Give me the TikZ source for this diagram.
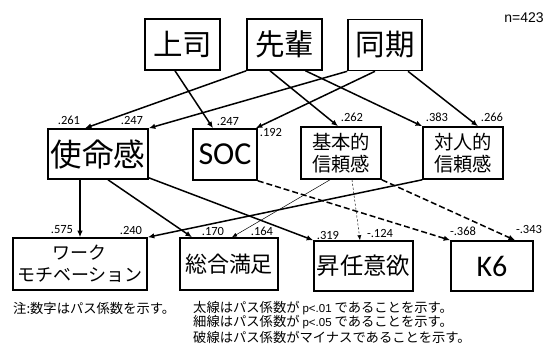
\documentclass[tikz,border=0pt]{standalone}
\usepackage{fontspec}
\setmainfont{Carlito}
\newfontfamily\jp{Noto Sans CJK JP}
\newfontfamily\arialf{Liberation Sans}
\usetikzlibrary{arrows.meta}
\begin{document}
\begin{tikzpicture}[x=1pt,y=-1pt,
  box/.style={draw, line width=1.6pt, inner sep=0pt, align=center},
  thickarrow/.style={line width=1.5pt, -{Latex[length=6.5pt,width=5.5pt]}},
  thinarrow/.style={line width=0.5pt, -{Latex[length=5pt,width=4pt]}},
  negthick/.style={thickarrow, dash pattern=on 6pt off 3pt},
  negthin/.style={thinarrow, dash pattern=on 2pt off 2pt},
  coef/.style={font=\fontsize{12.5}{12.5}\selectfont, inner sep=0pt},
  note/.style={anchor=west, inner sep=0pt, font=\jp\fontsize{13.3}{13.3}\selectfont},
  pval/.style={}
]
\useasboundingbox (0,0) rectangle (550,354);

% top row
\node[box, minimum width=75pt, minimum height=51pt, font=\jp\fontsize{29.5}{30}\selectfont] (shushi) at (182.5,44.5) {上司};
\node[box, minimum width=75pt, minimum height=51pt, font=\jp\fontsize{29.5}{30}\selectfont] (senpai) at (284.5,44.5) {先輩};
\node[box, minimum width=74pt, minimum height=51pt, font=\jp\fontsize{29.5}{30}\selectfont] (douki) at (385,45) {同期};

% middle row
\node[box, minimum width=100pt, minimum height=50pt, font=\jp\fontsize{31.5}{32}\selectfont] (shimei) at (98,154) {使命感};
\node[box, minimum width=64pt, minimum height=51pt, font=\fontsize{32}{32}\selectfont] (soc) at (225,154.5) {SOC};
\node[box, minimum width=80pt, minimum height=52pt, font=\jp\fontsize{19.3}{22}\selectfont] (kihon) at (341,153) {基本的\\信頼感};
\node[box, minimum width=80pt, minimum height=52pt, font=\jp\fontsize{19.3}{22}\selectfont] (taijin) at (463,153) {対人的\\信頼感};

% bottom row
\node[box, minimum width=134pt, minimum height=52pt, font=\jp\fontsize{18}{22}\selectfont] (work) at (80,264) {ワーク\\モチベーション};
\node[box, minimum width=98pt, minimum height=52pt, font=\jp\fontsize{22}{22}\selectfont] (sogo) at (229,264) {総合満足};
\node[box, minimum width=99pt, minimum height=50pt, font=\jp\fontsize{23.3}{24}\selectfont] (shonin) at (363.5,266) {昇任意欲};
\node[box, minimum width=82pt, minimum height=50pt, font=\fontsize{30}{30}\selectfont] (k6) at (492,266) {K6};

% upper paths
\draw[thickarrow] ([xshift=-7.5pt]shushi.south) -- ([xshift=-12pt]soc.north);
\draw[thickarrow] (senpai.south west) -- ([xshift=-13pt]shimei.north);
\draw[thickarrow] (douki.south west) -- (shimei.north east);
\draw[thickarrow] ([xshift=-10pt]douki.south) -- ([xshift=-2pt]soc.north east);
\draw[thickarrow] ([xshift=-14.5pt]senpai.south) -- ([xshift=-3pt]kihon.north);
\draw[thickarrow] ([xshift=21pt]senpai.south) -- (taijin.north west);
\draw[thickarrow] ([xshift=23pt]douki.south) -- ([xshift=15pt]taijin.north);

% lower paths
\draw[thickarrow] ([xshift=-18pt]shimei.south) -- (work.north);
\draw[thickarrow] ([xshift=10pt]shimei.south) -- ([xshift=-37pt]sogo.north);
\draw[thickarrow] ([yshift=2pt]shimei.south east) -- (shonin.north west);
\draw[thickarrow] (taijin.south west) -- (work.north east);
\draw[thinarrow] ([xshift=-11pt]kihon.south) -- ([xshift=3pt]sogo.north);
\draw[negthin] ([xshift=11pt]kihon.south) -- ([xshift=-3.5pt]shonin.north);
\draw[negthick] (soc.south east) -- (k6.north west);
\draw[negthick] (kihon.south east) -- ([xshift=23pt]k6.north);

% coefficients
\node[coef] (c1) at (69,120) {.261};
\node[coef] (c2) at (132,120) {.247};
\node[coef] (c3) at (228,121) {.247};
\node[coef] (c4) at (271,132) {.192};
\node[coef] (c5) at (352,117) {.262};
\node[coef] (c6) at (437,117) {.383};
\node[coef] (c7) at (492,117) {.266};
\node[coef] (c8) at (62,230) {.575};
\node[coef] (c9) at (131,230) {.240};
\node[coef] (c10) at (213,231) {.170};
\node[coef] (c11) at (262,231) {.164};
\node[coef] (c12) at (328,235) {.319};
\node[coef] (c13) at (380,233) {-.124};
\node[coef] (c14) at (463,231) {-.368};
\node[coef] (c15) at (529,229) {-.343};

\node[font=\arialf\fontsize{14}{14}\selectfont, inner sep=0pt] (n) at (524,17.5) {n=423};

% notes
\node[note] (note0) at (13,308) {注:数字はパス係数を示す。};
\node[note] (note1) at (193,308) {太線はパス係数が {\arialf\fontsize{11.5}{11.5}\selectfont p<.01} であることを示す。};
\node[note] (note2) at (193,322.5) {細線はパス係数が {\arialf\fontsize{11.5}{11.5}\selectfont p<.05} であることを示す。};
\node[note] (note3) at (193,337) {破線はパス係数がマイナスであることを示す。};
\end{tikzpicture}
\end{document}
